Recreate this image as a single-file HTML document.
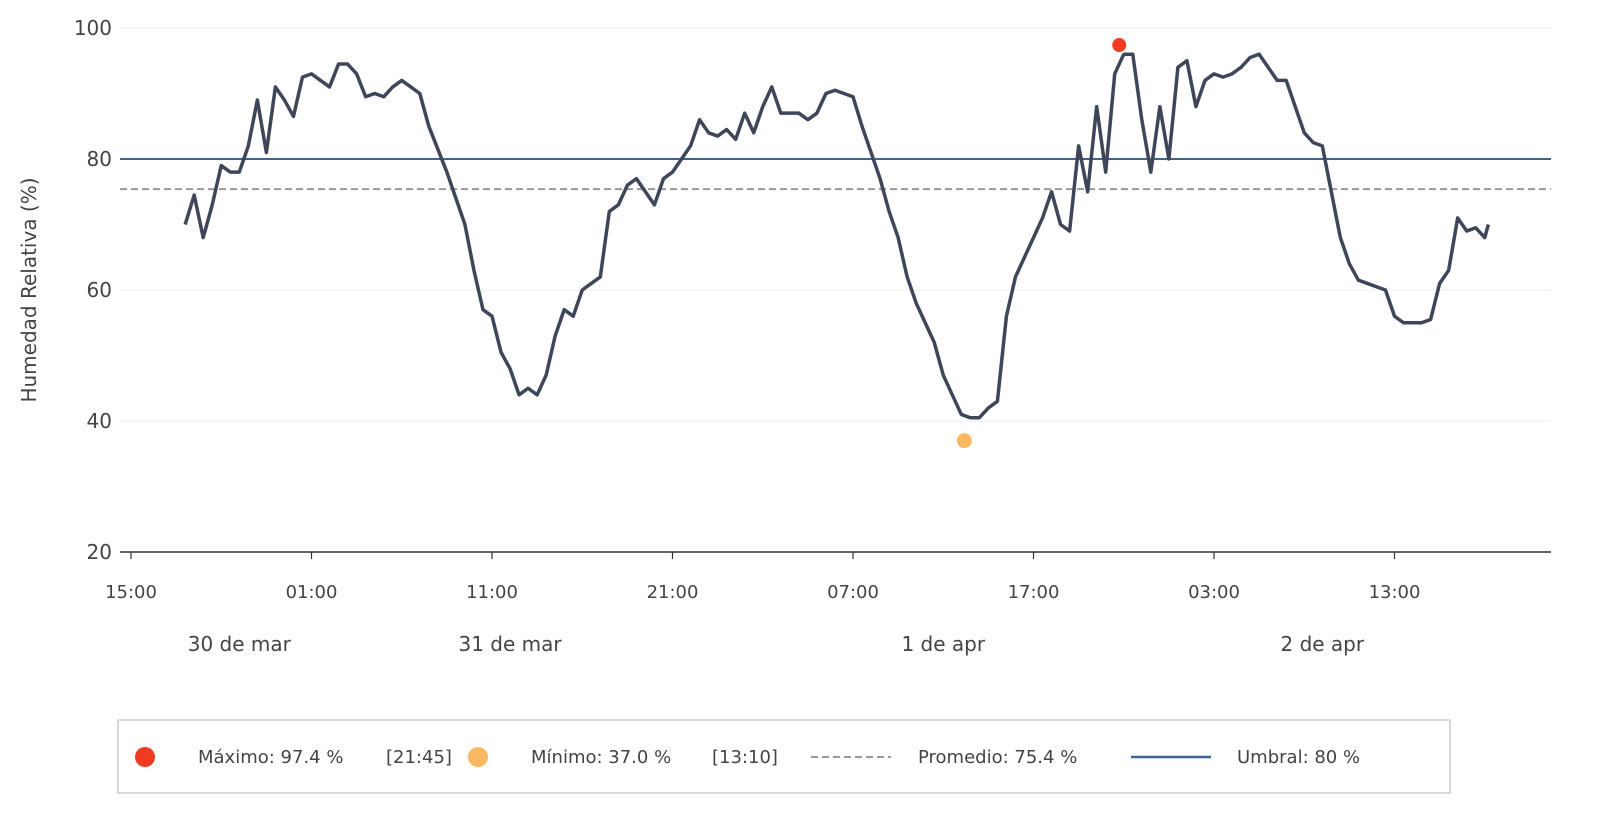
<!DOCTYPE html>
<html><head><meta charset="utf-8"><style>
body{margin:0;background:#fff;font-family:"Liberation Sans","DejaVu Sans",sans-serif}
svg text{font-family:"DejaVu Sans","Liberation Sans",sans-serif}
</style></head><body>
<svg id="chart" width="1601" height="828" xmlns="http://www.w3.org/2000/svg">
<g id="grid"></g><g id="lines"></g><g id="axes"></g><g id="legend"></g>
</svg>
<script>
// hours offset from 15:00 (29 mar)
const hours=[3,3.5,4,4.5,5,5.5,6,6.5,7,7.5,8,8.5,9,9.5,10,10.5,11,11.5,12,12.5,13,13.5,14,14.5,15,15.5,16,16.5,17,17.5,18,18.5,19,19.5,20,20.5,21,21.5,22,22.5,23,23.5,24,24.5,25,25.5,26,26.5,27,27.5,28,28.5,29,29.5,30,30.5,31,31.5,32,32.5,33,33.5,34,34.5,35,35.5,36,36.5,37,37.5,38,38.5,39,39.5,40,40.5,41,41.5,42,42.5,43,43.5,44,44.5,45,45.5,46,46.5,47,47.5,48,48.5,49,49.5,50,50.5,51,51.5,52,52.5,53,53.5,54,54.5,55,55.5,56,56.5,57,57.5,58,58.5,59,59.5,60,60.5,61,61.5,62,62.5,63,63.5,64,64.5,65,65.5,66,66.5,67,67.5,68,68.5,69,69.5,70,70.5,71,71.5,72,72.5,73,73.5,74,74.5,75,75.2];
const humidity=[70,74.5,68,73,79,78,78,82,89,81,91,89,86.5,92.5,93,92,91,94.5,94.5,93,89.5,90,89.5,91,92,91,90,85,81.5,78,74,70,63,57,56,50.5,48,44,45,44,47,53,57,56,60,61,62,72,73,76,77,75,73,77,78,80,82,86,84,83.5,84.5,83,87,84,88,91,87,87,87,86,87,90,90.5,90,89.5,85,81,77,72,68,62,58,55,52,47,44,41,40.5,40.5,42,43,56,62,65,68,71,75,70,69,82,75,88,78,93,96,96,86,78,88,80,94,95,88,92,93,92.5,93,94,95.5,96,94,92,92,88,84,82.5,82,75,68,64,61.5,61,60.5,60,56,55,55,55,55.5,61,63,71,69,69.5,68,70];
const yTicks=[20,40,60,80,100];
const xTickLabels=["15:00","01:00","11:00","21:00","07:00","17:00","03:00","13:00"];
const xTickHours=[0,10,20,30,40,50,60,70];
const dayLabels=["30 de mar","31 de mar","1 de apr","2 de apr"];
const dayLabelHours=[6,21,45,66];
const maxPoint=[54.75,97.4], minPoint=[46.17,37.0];
const avg=75.4, threshold=80;

const NS="http://www.w3.org/2000/svg";
const X=h=>131+18.05*h, Y=v=>552-(v-20)*6.55;
function mk(p,tag,a,txt){const e=document.createElementNS(NS,tag);for(const k in a)e.setAttribute(k,a[k]);if(txt!=null)e.textContent=txt;document.getElementById(p).appendChild(e);return e;}
yTicks.forEach(v=>{
 if(v>20){const g=mk('grid','line',{x1:120,x2:1551,y1:Y(v),y2:Y(v),stroke:'#eeeeee','stroke-width':1});
 
 }
 const t=mk('axes','text',{x:112,y:Y(v)+7,'text-anchor':'end','font-size':20,fill:'#444'},v);
 
 
});
const ax=mk('axes','line',{x1:120,x2:1551,y1:552,y2:552,stroke:'#333','stroke-width':1.5});


xTickHours.forEach((h,i)=>{
 mk('axes','line',{x1:X(h),x2:X(h),y1:552,y2:559,stroke:'#333','stroke-width':1.2});
 const t=mk('axes','text',{x:X(h),y:598,'text-anchor':'middle','font-size':18,fill:'#444'},xTickLabels[i]);
 
 
});
dayLabels.forEach((d,i)=>{
 const t=mk('axes','text',{x:X(dayLabelHours[i]),y:651,'text-anchor':'middle','font-size':20,fill:'#444'},d);
 
 
});
const yt=mk('axes','text',{x:36,y:290,'text-anchor':'middle','font-size':20,fill:'#444',transform:'rotate(-90 36 290)'},'Humedad Relativa (%)');


const th=mk('lines','line',{x1:120,x2:1551,y1:Y(threshold),y2:Y(threshold),stroke:'#3b6491','stroke-width':2});


const av=mk('lines','line',{x1:120,x2:1551,y1:Y(avg),y2:Y(avg),stroke:'#999','stroke-width':2,'stroke-dasharray':'7,4'});


const pl=mk('lines','polyline',{points:hours.map((h,i)=>X(h)+','+Y(humidity[i])).join(' '),fill:'none',stroke:'#3f4659','stroke-width':3.5,'stroke-linejoin':'round'});


const mx=mk('lines','circle',{cx:X(maxPoint[0]),cy:Y(maxPoint[1]),r:8,fill:'#f03a22',stroke:'#fff','stroke-width':2});


const mn=mk('lines','circle',{cx:X(minPoint[0]),cy:Y(minPoint[1]),r:8,fill:'#fbb862',stroke:'#fff','stroke-width':1});


// legend
const lb=mk('legend','rect',{x:118,y:720,width:1332,height:73,fill:'#fff',stroke:'#ccc','stroke-width':1.5});


mk('legend','circle',{cx:145,cy:757,r:10,fill:'#f03a22'});
mk('legend','text',{x:198,y:763,'font-size':18,fill:'#444'},'Máximo: 97.4 %');
mk('legend','text',{x:386,y:763,'font-size':18,fill:'#444'},'[21:45]');
mk('legend','circle',{cx:478,cy:757,r:10,fill:'#fbb862'});
mk('legend','text',{x:531,y:763,'font-size':18,fill:'#444'},'Mínimo: 37.0 %');
mk('legend','text',{x:712,y:763,'font-size':18,fill:'#444'},'[13:10]');
mk('legend','line',{x1:811,x2:891,y1:757,y2:757,stroke:'#999','stroke-width':2,'stroke-dasharray':'7,4'});
mk('legend','text',{x:918,y:763,'font-size':18,fill:'#444'},'Promedio: 75.4 %');
mk('legend','line',{x1:1131,x2:1211,y1:757,y2:757,stroke:'#3b6491','stroke-width':2.5});
mk('legend','text',{x:1237,y:763,'font-size':18,fill:'#444'},'Umbral: 80 %');
document.querySelectorAll('#legend > *:not(rect)').forEach(e=>{
 
 
});
</script>
</body></html>
